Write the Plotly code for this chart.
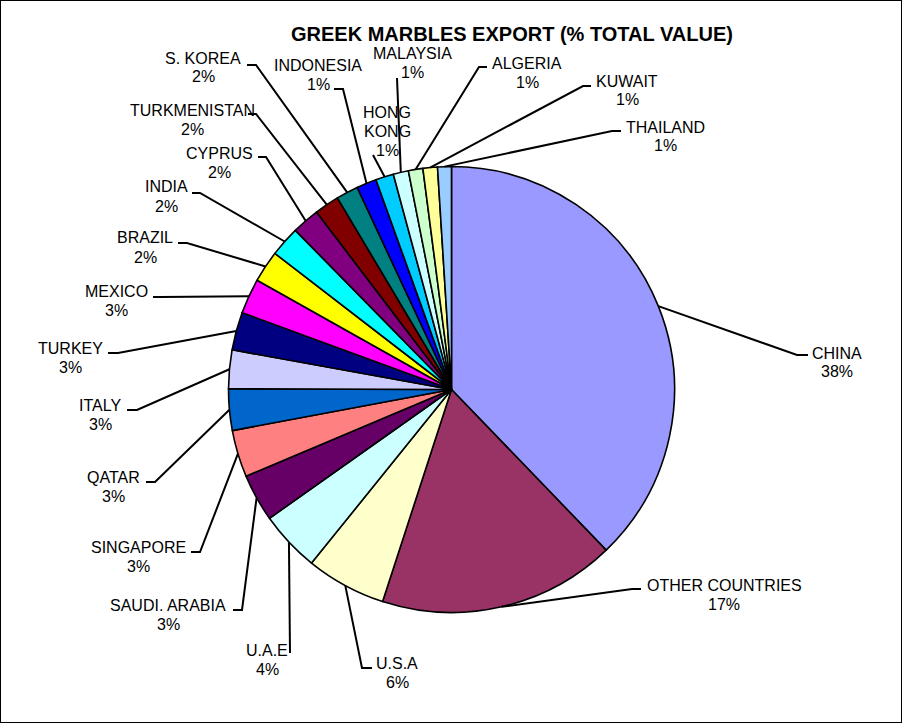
import math
import plotly.graph_objects as go

# ---- data ----
countries = ["CHINA", "OTHER COUNTRIES", "U.S.A", "U.A.E", "SAUDI. ARABIA", "SINGAPORE",
             "QATAR", "ITALY", "TURKEY", "MEXICO", "BRAZIL", "INDIA", "CYPRUS",
             "TURKMENISTAN", "S. KOREA", "INDONESIA", "HONG KONG", "MALAYSIA",
             "ALGERIA", "KUWAIT", "THAILAND"]
shares = [37.8, 17.2, 5.8, 4.4, 3.45, 3.4, 3.0, 2.8, 2.75, 2.55, 2.3, 2.2, 2.0,
          1.8, 1.6, 1.45, 1.3, 1.1, 1.05, 1.05, 1.0]
label_names = ["CHINA", "OTHER COUNTRIES", "U.S.A", "U.A.E", "SAUDI. ARABIA", "SINGAPORE",
               "QATAR", "ITALY", "TURKEY", "MEXICO", "BRAZIL", "INDIA", "CYPRUS",
               "TURKMENISTAN", "S. KOREA", "INDONESIA", "HONG<br>KONG", "MALAYSIA",
               "ALGERIA", "KUWAIT", "THAILAND"]
title_text = "GREEK MARBLES EXPORT (% TOTAL VALUE)"

# ---- styles / layout ----
colors = ["#9999FF", "#993366", "#FFFFCC", "#CCFFFF", "#660066", "#FF8080",
          "#0066CC", "#CCCCFF", "#000080", "#FF00FF", "#FFFF00", "#00FFFF", "#800080",
          "#800000", "#008080", "#0000FF", "#00CCFF", "#CCFFFF", "#CCFFCC",
          "#FFFF99", "#99CCFF"]

W, H = 902, 723
CX, CY, R = 451.5, 389.5, 223.0

# label text centre (first line) and leader elbow / end points, in pixels
label_pos = [(837, 353), (724, 585), (397, 663), (267, 650), (168, 605), (138, 547),
             (114, 477), (100, 405), (70, 348), (116, 291), (145, 238), (166, 187),
             (219, 153), (192, 110), (203, 58), (318, 65), (387, 112), (412, 54),
             (527, 63), (627, 81), (665, 127)]
elbows = [(797, 355), (632, 589), (362, 668), (290, 653), (242, 610), (200, 552),
          (155, 482), (137, 410), (118, 353), (160, 297), (187, 243), (200, 193),
          (266, 157), (256, 114), (256, 65), (343, 89), (373, 155), (397, 78),
          (479, 67), (583, 86), (612, 131)]
ends = [(808, 355), (641, 589), (372, 668), (290, 653), (233, 610), (191, 552),
        (146, 482), (127, 410), (108, 353), (153, 297), (178, 243), (192, 193),
        (258, 157), (248, 114), (247, 65), (334, 89), (373, 155), (397, 78),
        (487, 67), (591, 86), (621, 131)]
LINE_GAP = 19
FONT = "Liberation Sans, Arial, sans-serif"


def px(x):
    return x / W


def py(y):
    return 1 - y / H


fig = go.Figure(go.Pie(
    labels=countries, values=shares, sort=False, direction="clockwise", rotation=0,
    marker=dict(colors=colors, line=dict(color="black", width=1.6)),
    textinfo="none", hoverinfo="label+percent", showlegend=False,
    domain=dict(x=[px(CX - R), px(CX + R)], y=[py(CY + R), py(CY - R)]),
))

total = sum(shares)
shapes = []
annotations = []
cum = 0.0
for i, v in enumerate(shares):
    mid = (cum + v / 2) / total * 2 * math.pi
    cum += v
    sx = CX + R * math.sin(mid)
    sy = CY - R * math.cos(mid)
    ex, ey = elbows[i]
    hx, hy = ends[i]
    path = f"M {px(sx)} {py(sy)} L {px(ex)} {py(ey)} L {px(hx)} {py(hy)}"
    shapes.append(dict(type="path", xref="paper", yref="paper", path=path,
                       line=dict(color="black", width=2)))
    pct = f"{round(v / total * 100):.0f}%"
    lines = label_names[i].split("<br>") + [pct]
    tx, ty = label_pos[i]
    for k, t in enumerate(lines):
        annotations.append(dict(x=px(tx), y=py(ty + k * LINE_GAP), xref="paper", yref="paper",
                                text=t, showarrow=False, xanchor="center", yanchor="middle",
                                font=dict(family=FONT, size=16, color="black")))

annotations.append(dict(x=px(512), y=py(34), xref="paper", yref="paper", text=f"<b>{title_text}</b>",
                        showarrow=False, xanchor="center", yanchor="middle",
                        font=dict(family=FONT, size=20, color="black")))

shapes.append(dict(type="rect", xref="paper", yref="paper", x0=0, y0=0, x1=1, y1=1,
                   line=dict(color="black", width=2), fillcolor="rgba(0,0,0,0)"))

fig.update_layout(width=W, height=H, margin=dict(l=0, r=0, t=0, b=0),
                  paper_bgcolor="white", plot_bgcolor="white",
                  shapes=shapes, annotations=annotations)

fig.write_html("out.html")
